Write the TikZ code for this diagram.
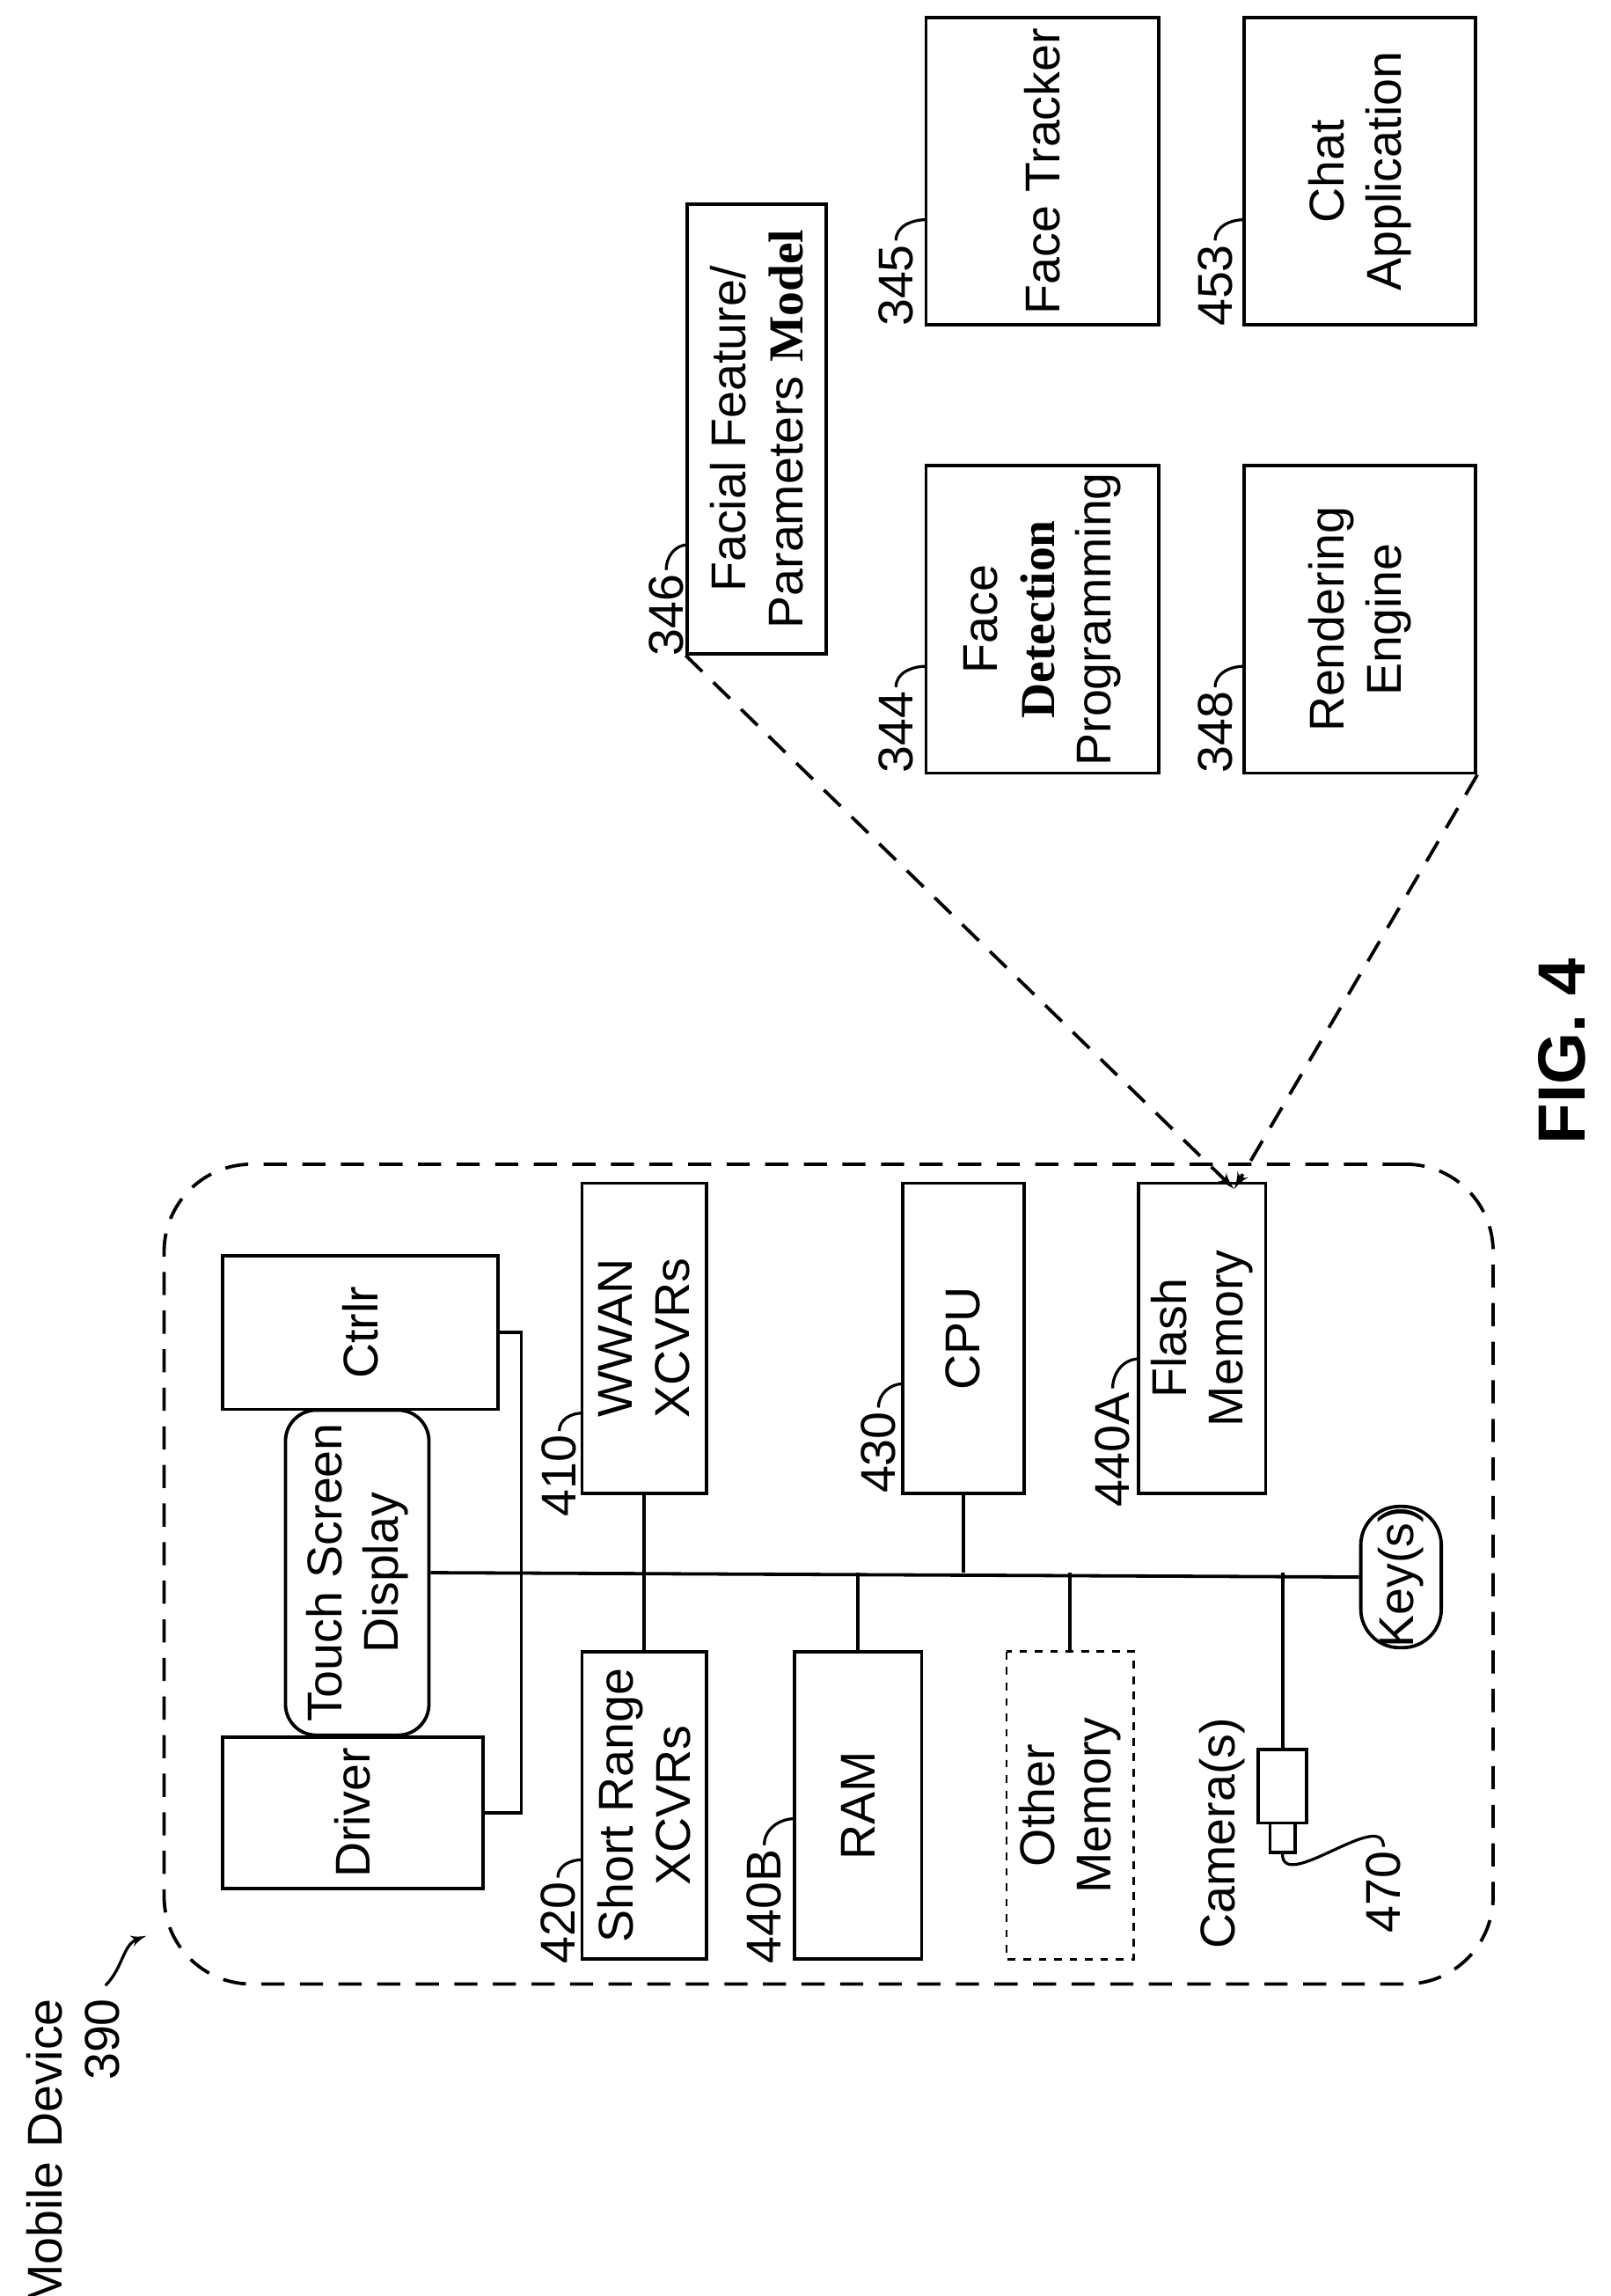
\documentclass[tikz,border=0pt]{standalone}
\usepackage{fontspec}
\setmainfont{Liberation Sans}
\newfontfamily\serifb{Liberation Serif}
\usetikzlibrary{arrows,positioning}
\tikzset{every picture/.style={
  >=latex'                      % LaTeX style arrows.
  }
}

\begin{document}
\begin{tikzpicture}[
    x=0.02cm, y=-0.02cm,
    line width=1.3pt,
    every node/.style={font=\fontsize{19}{22}\selectfont},
    box/.style={
      draw,
      rotate=90,
      align=center,
      inner sep=2pt
    },
    num/.style={rotate=90, inner sep=1pt},
    lead/.style={line width=1.1pt},
    longdash/.style={dash pattern=on 9pt off 6pt}
  ]
    \useasboundingbox (0,0) rectangle (1100,1568);

    % The mobile device and its parts.
    \node[draw,longdash,rounded corners=34pt,minimum width=18.16cm,
      minimum height=11.2cm] (device) at (566,1075) {};
    \node[box,minimum width=2.06cm,minimum height=3.56cm] (driver) at (241,1238) {Driver};
    \node[box,minimum width=2.1cm,minimum height=3.76cm] (ctrlr) at (246,910) {Ctrlr};
    \node[box,fill=white,rounded corners=12pt,minimum width=4.44cm,minimum height=1.96cm]
      (touch) at (244,1074) {Touch Screen\\Display};
    \node[box,minimum width=4.24cm,minimum height=1.7cm] (wwan) at (440,914) {WWAN\\XCVRs};
    \node[box,minimum width=4.2cm,minimum height=1.7cm] (short) at (440,1233) {Short Range\\XCVRs};
    \node[box,minimum width=4.2cm,minimum height=1.74cm] (ram) at (586,1233) {RAM};
    \node[box,minimum width=4.24cm,minimum height=1.66cm] (cpu) at (658,914) {CPU};
    \node[box,dashed,line width=1pt,minimum width=4.2cm,minimum height=1.74cm]
      (other) at (731,1233) {Other\\Memory};
    \node[box,minimum width=4.24cm,minimum height=1.74cm] (flash) at (821,914) {Flash\\Memory};
    \node[box,rounded corners=15pt,inner sep=0pt,minimum width=1.9cm,minimum height=1.1cm]
      (keys) at (957,1077) {Key(s)};
    \node[draw,minimum width=0.66cm,minimum height=1cm,inner sep=0pt] (cam) at (876,1220) {};
    \node[draw,minimum width=0.34cm,minimum height=0.4cm,inner sep=0pt] (lens) at (876,1255) {};
    \node[num] (camlbl) at (835,1252) {Camera(s)};

    % Bus and links.
    \draw (touch.south) -- (keys.north);
    \draw (wwan.west) -- (short.east);
    \draw (ram.east) -- (ram.east |- touch.south);
    \draw (cpu.west) -- (cpu.west |- touch.south);
    \draw (other.east) -- (other.east |- touch.south);
    \draw (cam.north) -- (cam.north |- touch.south);
    \draw (ctrlr.south) -- ++(15,0) coordinate (brk) -- (brk |- driver.south) -- (driver.south);

    % Programs held in flash memory.
    \node[box,minimum width=6.14cm,minimum height=1.9cm] (facial) at (517,293)
      {Facial Feature/\\Parameters {\serifb\bfseries Model}};
    \node[box,minimum width=4.2cm,minimum height=3.18cm] (facedet) at (712,423)
      {Face\\{\serifb\bfseries Detection}\\Programming};
    \node[box,minimum width=4.2cm,minimum height=3.18cm] (tracker) at (712,117) {Face Tracker};
    \node[box,minimum width=4.2cm,minimum height=3.16cm] (render) at (929,423) {Rendering\\Engine};
    \node[box,minimum width=4.2cm,minimum height=3.16cm] (chat) at (929,117) {Chat\\Application};

    \coordinate (fm) at (843,812);
    \draw[longdash,->] (facial.north west) -- (fm);
    \draw[longdash,->] (render.south west) -- (fm);

    % Reference numbers.
    \node[num] (l410) at (382,1008) {410};
    \node[num] (l420) at (381,1313) {420};
    \node[num] (l440b) at (522,1302) {440B};
    \node[num] (l430) at (600,992) {430};
    \node[num] (l440a) at (760,990) {440A};
    \node[num] (l346) at (455,420) {346};
    \node[num] (l344) at (612,500) {344};
    \node[num] (l345) at (612,195) {345};
    \node[num] (l348) at (830,500) {348};
    \node[num] (l453) at (830,195) {453};
    \node[num] (l470) at (945,1292) {470};
    \draw[lead] (l410.east) to[out=90,in=180] (398,965);
    \draw[lead] (l420.east) to[out=90,in=180] (398,1270);
    \draw[lead] (l440b.east) to[out=90,in=180] (543,1242);
    \draw[lead] (l430.east) to[out=90,in=180] (617,945);
    \draw[lead] (l440a.east) to[out=90,in=180] (778,928);
    \draw[lead] (l346.east) to[out=90,in=180] (470,372);
    \draw[lead] (l344.east) to[out=90,in=180] (633,455);
    \draw[lead] (l345.east) to[out=90,in=180] (633,150);
    \draw[lead] (l348.east) to[out=90,in=180] (850,455);
    \draw[lead] (l453.east) to[out=90,in=180] (850,150);
    \draw[lead] (lens.south) to[out=-90,in=90] (l470.east);

    % Titles.
    \node[num,align=right,anchor=east] (mobile) at (50,1362) {Mobile Device\\390};
    \draw[lead,->] (72,1356) to[out=45,in=200] (100,1322);
    \node[num,font=\fontsize{26}{30}\selectfont\bfseries] (fig) at (1067,718) {FIG. 4};
\end{tikzpicture}
\end{document}
